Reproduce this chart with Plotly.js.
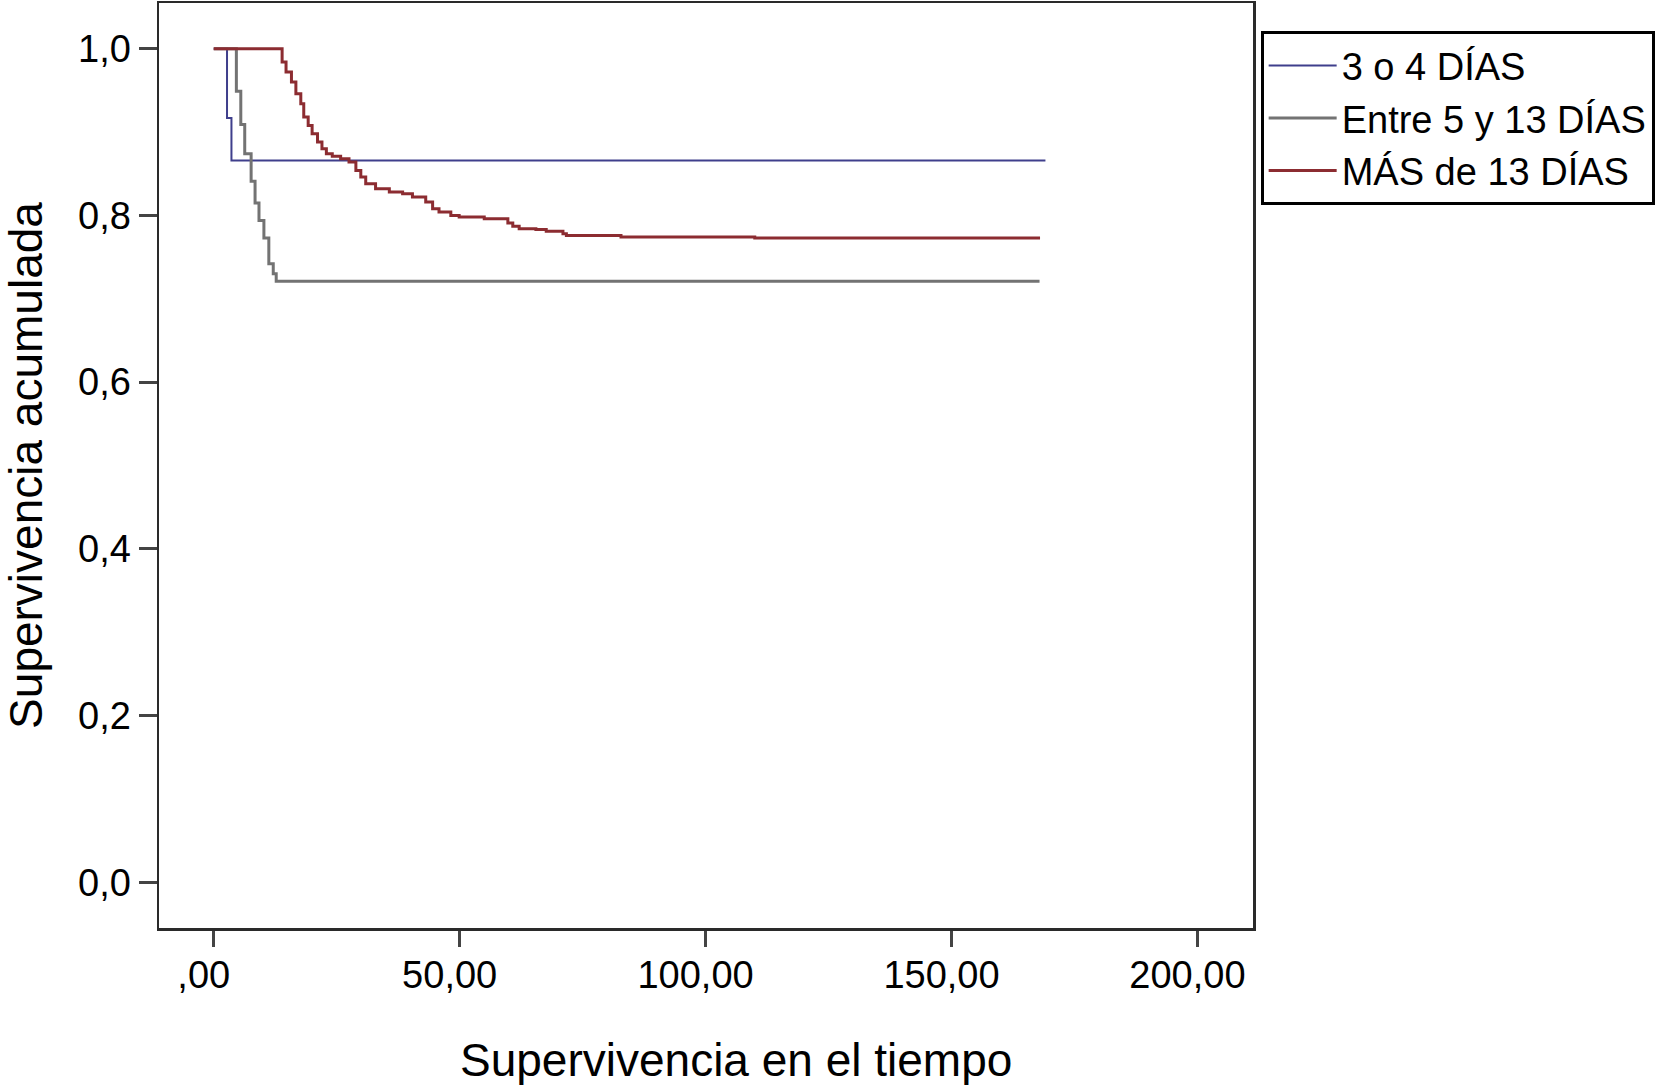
<!DOCTYPE html>
<html>
<head>
<meta charset="utf-8">
<script src="https://cdn.plot.ly/plotly-3.0.1.min.js"></script>
<style>html,body{margin:0;padding:0;background:#fff;}#chart{width:1668px;height:1085px;}</style>
</head>
<body>
<div id="chart"></div>
<script>
// Series names
const seriesNames = ["3 o 4 DÍAS", "Entre 5 y 13 DÍAS", "MÁS de 13 DÍAS"];

// Kaplan-Meier step curves (time, cumulative survival)
const tBlue = [0, 2.7, 3.6, 169.1];
const sBlue = [1, 0.917, 0.866, 0.866];

const tGray = [0, 4.6, 5.5, 6.3, 7.6, 8.4, 9.2, 10.2, 11.2, 12.1, 12.7, 167.9];
const sGray = [1, 0.949, 0.909, 0.874, 0.841, 0.815, 0.794, 0.773, 0.742, 0.730, 0.721, 0.721];

const tRed = [0, 13.9, 14.7, 15.8, 16.7, 17.7, 18.3, 19.2, 20.0, 21.1, 22.0, 22.9, 24.1, 25.8, 27.5, 28.9, 29.9, 30.9, 32.9, 35.7, 38.4, 40.4, 43.1, 44.5, 45.8, 48.2, 49.9, 55.0, 59.8, 60.8, 62.1, 65.5, 67.6, 71.0, 71.7, 82.8, 110, 168];
const sRed = [1, 0.984, 0.972, 0.960, 0.946, 0.934, 0.918, 0.908, 0.898, 0.888, 0.880, 0.874, 0.871, 0.868, 0.864, 0.854, 0.846, 0.838, 0.832, 0.828, 0.826, 0.822, 0.816, 0.808, 0.804, 0.800, 0.798, 0.796, 0.791, 0.787, 0.784, 0.783, 0.781, 0.778, 0.776, 0.774, 0.773, 0.773];

// Tick labels and titles
const xTickVals = [0, 50, 100, 150, 200];
const xTickText = [",00", "50,00", "100,00", "150,00", "200,00"];
const yTickVals = [0, 0.2, 0.4, 0.6, 0.8, 1.0];
const yTickText = ["0,0", "0,2", "0,4", "0,6", "0,8", "1,0"];
const xTitle = "Supervivencia en el tiempo";
const yTitle = "Supervivencia acumulada";

const colors = ["#3f3f8c", "#737373", "#8c2c31"];
const widths = [2, 3, 3];
const xs = [tBlue, tGray, tRed];
const ys = [sBlue, sGray, sRed];

const traces = seriesNames.map((name, i) => ({
  type: "scatter",
  mode: "lines",
  name: name,
  x: xs[i],
  y: ys[i],
  line: {shape: "hv", color: colors[i], width: widths[i]},
  hoverinfo: "skip"
}));

const font = "Liberation Sans, Arial, Helvetica, sans-serif";

const layout = {
  width: 1668,
  height: 1085,
  paper_bgcolor: "#ffffff",
  plot_bgcolor: "#ffffff",
  margin: {l: 158.5, r: 414.7, t: 3.3, b: 156.7, pad: 0},
  font: {family: font, color: "#000", size: 38},
  showlegend: true,
  legend: {
    x: 1.0070, xanchor: "left",
    y: 0.9693, yanchor: "top",
    bgcolor: "#ffffff",
    bordercolor: "#000000",
    borderwidth: 3,
    font: {family: font, size: 38, color: "#000"},
    itemwidth: 68,
    tracegroupgap: 0
  },
  annotations: [{
    text: xTitle,
    xref: "paper", yref: "paper",
    x: 0.527, y: -0.143,
    xanchor: "center", yanchor: "middle",
    showarrow: false,
    font: {family: font, size: 46, color: "#000"}
  }],
  xaxis: {
    range: [-11.13, 211.3],
    tickvals: xTickVals,
    ticktext: xTickText,
    ticks: "outside",
    ticklen: 16,
    tickwidth: 3,
    tickcolor: "#444",
    ticklabelshift: -10,
    ticklabelstandoff: -4,
    tickfont: {family: font, size: 38, color: "#000"},
    showline: true,
    mirror: true,
    linecolor: "#2a2a2a",
    linewidth: 2.5,
    showgrid: false,
    zeroline: false
  },
  yaxis: {
    range: [-0.0547, 1.0548],
    tickvals: yTickVals,
    ticktext: yTickText,
    ticks: "outside",
    ticklen: 18,
    tickwidth: 3,
    tickcolor: "#444",
    ticklabelstandoff: 0,
    tickfont: {family: font, size: 38, color: "#000"},
    showline: true,
    mirror: true,
    linecolor: "#2a2a2a",
    linewidth: 2.5,
    showgrid: false,
    zeroline: false,
    title: {text: yTitle, font: {family: font, size: 46, color: "#000"}, standoff: 26}
  }
};

Plotly.newPlot("chart", traces, layout, {displayModeBar: false, staticPlot: true});
</script>
</body>
</html>
